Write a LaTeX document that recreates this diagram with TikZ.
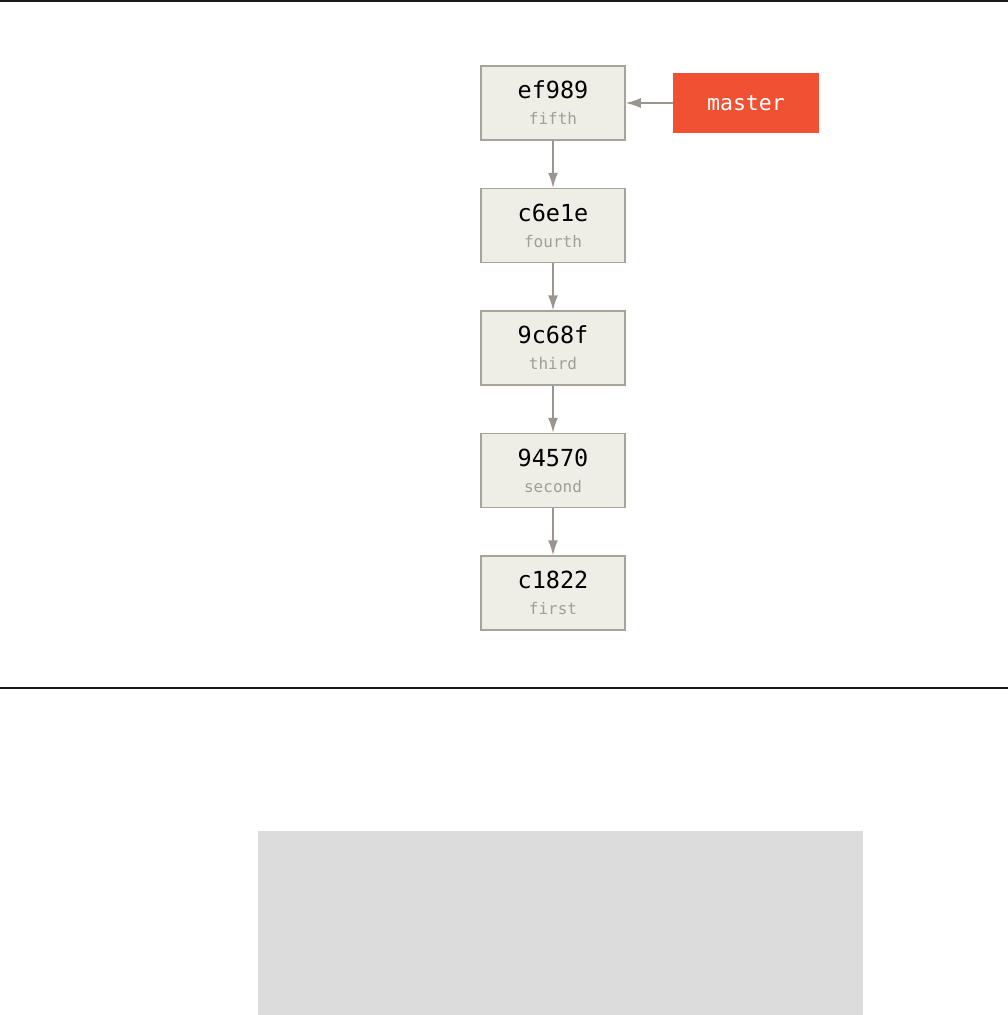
\documentclass[tikz,border=0pt]{standalone}
\usepackage{fontspec}
\setmonofont{DejaVu Sans Mono}
\usepackage{tikz}
\usetikzlibrary{arrows.meta,positioning}
\definecolor{commit-fill}{RGB}{238, 237, 230}
\definecolor{commit-border}{RGB}{166, 163, 156}
\definecolor{link-gray}{RGB}{155, 149, 143}
\definecolor{msg-gray}{RGB}{160, 158, 152}
\definecolor{branch-red}{RGB}{240, 81, 51}
\definecolor{panel-gray}{RGB}{220, 220, 220}

\begin{document}
\begin{tikzpicture}[
        x=1pt, y=-1pt,
        node distance=47pt,
        commit/.style={draw=commit-border, line width=1.5pt, fill=commit-fill, rectangle, minimum width=144pt, minimum height=74pt, align=center, inner sep=0pt, font=\ttfamily\fontsize{23.5}{25}\selectfont},
        branch/.style={fill=branch-red, rectangle, minimum width=146pt, minimum height=60pt, text=white, font=\ttfamily\fontsize{21.5}{24}\selectfont},
        link/.style={-{Latex[length=15pt,width=10pt]}, draw=link-gray, fill=link-gray, line width=1.5pt}
    ]
        \useasboundingbox (0,0) rectangle (1008,1015);

        % Rules and bottom panel
        \draw[line width=1.5pt, black!90] (0,0.75) -- (1008,0.75);
        \draw[line width=1.5pt, black!90] (0,688) -- (1008,688);
        \fill[panel-gray] (258,831) rectangle (863,1015);

        % Commits
        \node[commit] (c5) at (553,103) {ef989\\[1pt]{\color{msg-gray}\fontsize{16}{17}\selectfont fifth}};
        \node[commit, below=of c5] (c4) {c6e1e\\[1pt]{\color{msg-gray}\fontsize{16}{17}\selectfont fourth}};
        \node[commit, below=of c4] (c3) {9c68f\\[1pt]{\color{msg-gray}\fontsize{16}{17}\selectfont third}};
        \node[commit, below=of c3] (c2) {94570\\[1pt]{\color{msg-gray}\fontsize{16}{17}\selectfont second}};
        \node[commit, below=of c2] (c1) {c1822\\[1pt]{\color{msg-gray}\fontsize{16}{17}\selectfont first}};

        % Branch pointer
        \node[branch, right=of c5] (master) {master};

        % Parent links
        \draw[link] (c5) -- (c4);
        \draw[link] (c4) -- (c3);
        \draw[link] (c3) -- (c2);
        \draw[link] (c2) -- (c1);
        \draw[link] (master) -- (c5);
    \end{tikzpicture}
\end{document}
